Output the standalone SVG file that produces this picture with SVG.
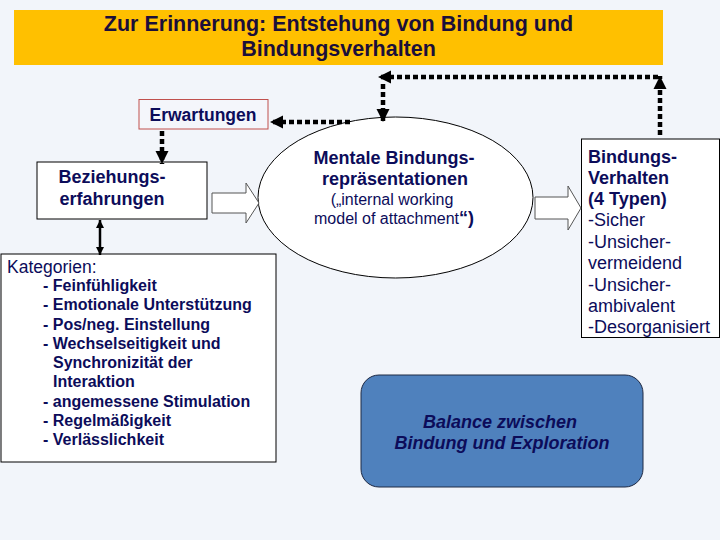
<svg xmlns="http://www.w3.org/2000/svg" width="720" height="540" viewBox="0 0 720 540">
<defs>
<style>
.t{font-family:"Liberation Sans",Arial,sans-serif;fill:#0C0C5A}
.b{font-weight:bold}
.box{fill:#FFFFFF;stroke:#000000;stroke-width:1}
.dot{fill:none;stroke:#000000;stroke-width:4.5;stroke-dasharray:5 3}
.blk{fill:#FFFFFF;stroke:#555555;stroke-width:1}
</style>
<marker id="ah" viewBox="0 0 10 10" refX="10" refY="5" markerWidth="13" markerHeight="14" markerUnits="userSpaceOnUse" orient="auto-start-reverse">
<path d="M0,0 L10,5 L0,10 z" fill="#000000"/>
</marker>
<marker id="sh" viewBox="0 0 10 10" refX="10" refY="5" markerWidth="8" markerHeight="8" markerUnits="userSpaceOnUse" orient="auto-start-reverse">
<path d="M0,0 L10,5 L0,10 z" fill="#000000"/>
</marker>
</defs>
<rect x="0" y="0" width="720" height="540" fill="#F2F5FA"/>

<g id="title">
<rect x="14" y="10" width="649" height="55" fill="#FFC000"/>
<text class="t b" x="338.5" y="31" font-size="21.5" text-anchor="middle" style="fill:#1B0F3A">Zur Erinnerung: Entstehung von Bindung und</text>
<text class="t b" x="338.5" y="56" font-size="21.5" text-anchor="middle" style="fill:#1B0F3A">Bindungsverhalten</text>
</g>

<g id="erwartungen">
<rect x="139" y="99.5" width="129" height="29.5" fill="#F4F6FB" stroke="#C0504D" stroke-width="1"/>
<text class="t b" x="203" y="121" font-size="17.5" text-anchor="middle">Erwartungen</text>
</g>

<g id="beziehungserfahrungen">
<rect class="box" x="37" y="162" width="170" height="57"/>
<text class="t b" x="112" y="183" font-size="18" text-anchor="middle">Beziehungs-</text>
<text class="t b" x="112" y="205" font-size="18" text-anchor="middle">erfahrungen</text>
</g>

<g id="kategorien">
<rect class="box" x="1" y="254" width="275" height="208"/>
<text class="t" x="7" y="273" font-size="17.5">Kategorien:</text>
<g class="t b" font-size="16">
<text x="43" y="291">- Feinfühligkeit</text>
<text x="43" y="310">- Emotionale Unterstützung</text>
<text x="43" y="329.5">- Pos/neg. Einstellung</text>
<text x="43" y="349">- Wechselseitigkeit und</text>
<text x="53" y="368">Synchronizität der</text>
<text x="53" y="387">Interaktion</text>
<text x="43" y="406.5">- angemessene Stimulation</text>
<text x="43" y="425.5">- Regelmäßigkeit</text>
<text x="43" y="444.5">- Verlässlichkeit</text>
</g>
</g>

<g id="mentale">
<ellipse cx="395.5" cy="197.5" rx="137.5" ry="80.5" fill="#FFFFFF" stroke="#000000" stroke-width="1"/>
<text class="t b" x="394" y="164" font-size="18" text-anchor="middle">Mentale Bindungs-</text>
<text class="t b" x="395" y="185" font-size="18" text-anchor="middle">repräsentationen</text>
<text class="t" x="392" y="205" font-size="16" text-anchor="middle">(„internal working</text>
<text class="t" x="394" y="224" font-size="16" text-anchor="middle">model of attachment<tspan class="b" font-size="18">“)</tspan></text>
</g>

<g id="bindungsverhalten">
<rect class="box" x="581.5" y="139" width="138" height="198.5"/>
<g class="t" font-size="18">
<text class="b" x="588" y="163">Bindungs-</text>
<text class="b" x="588" y="184">Verhalten</text>
<text class="b" x="588" y="205">(4 Typen)</text>
<text x="588" y="226">-Sicher</text>
<text x="588" y="248">-Unsicher-</text>
<text x="588" y="269">vermeidend</text>
<text x="588" y="291">-Unsicher-</text>
<text x="588" y="312">ambivalent</text>
<text x="588" y="333">-Desorganisiert</text>
</g>
</g>

<g id="balance">
<rect x="361" y="375" width="282" height="112" rx="18" ry="18" fill="#4F81BD" stroke="#1F2A44" stroke-width="1"/>
<text class="t b" x="500" y="428" font-size="18" font-style="italic" text-anchor="middle">Balance zwischen</text>
<text class="t b" x="502" y="449" font-size="18" font-style="italic" text-anchor="middle">Bindung und Exploration</text>
</g>

<g id="connectors">
<path class="dot" d="M660,135 L660,76" marker-end="url(#ah)"/>
<path class="dot" d="M658,77 L378,77" marker-end="url(#ah)"/>
<path class="dot" d="M383,84 L383,122" marker-end="url(#ah)"/>
<path class="dot" d="M350,122 L270,122" marker-end="url(#ah)"/>
<path class="dot" d="M162,131 L162,164" marker-end="url(#ah)"/>
<path d="M100,220 L100,255" fill="none" stroke="#000000" stroke-width="2.5" marker-start="url(#sh)" marker-end="url(#sh)"/>
<polygon class="blk" points="212,193 246,193 246,183 259,203 246,223 246,213 212,213"/>
<polygon class="blk" points="535,197 568,197 568,186 581,208 568,230 568,219 535,219"/>
</g>
</svg>
